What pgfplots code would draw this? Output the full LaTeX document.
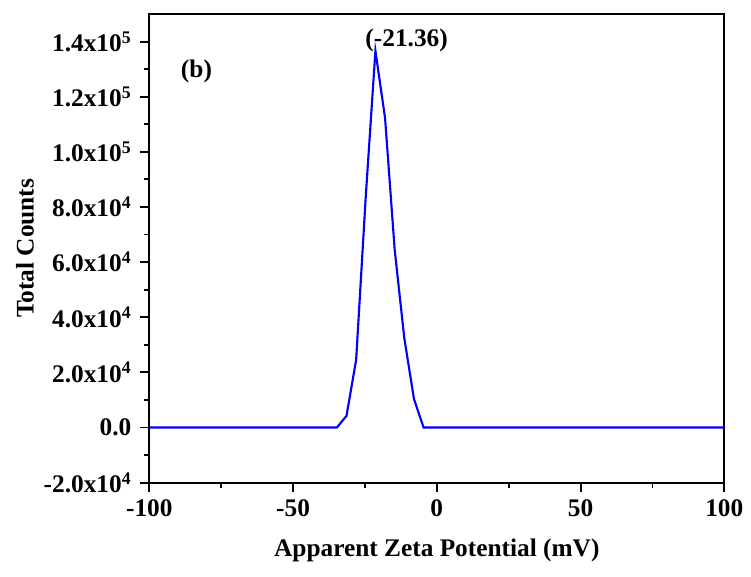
\documentclass[border=0pt]{standalone}
\usepackage{fontspec}
\setmainfont{Liberation Serif}
\usepackage{pgfplots}
\pgfplotsset{compat=1.18}
\usetikzlibrary{calc}

\newcommand{\lbl}{\fontsize{19}{22}\selectfont\bfseries}

\begin{document}
\begin{tikzpicture}
  \begin{axis}[
    name=ax,
    scale only axis,
    width=431.25pt, height=351.5pt,
    xmin=-100, xmax=100,
    ymin=-20000, ymax=150000,
    xtick={-100,-50,0,50,100},
    xticklabels={-100,-50,0,50,100},
    ytick={-20000,0,20000,40000,60000,80000,100000,120000,140000},
    yticklabels={-2.0x10\textsuperscript{4},0.0,2.0x10\textsuperscript{4},4.0x10\textsuperscript{4},
      6.0x10\textsuperscript{4},8.0x10\textsuperscript{4},1.0x10\textsuperscript{5},
      1.2x10\textsuperscript{5},1.4x10\textsuperscript{5}},
    minor x tick num=1,
    minor y tick num=1,
    xtick pos=bottom, ytick pos=left,
    tick align=outside,
    major tick length=7pt,
    minor tick length=3.8pt,
    tick style={black, line width=1.4pt},
    axis line style={line width=1.4pt},
    ticklabel style={font=\lbl},
    yticklabel style={xshift=-3pt},
    xticklabel style={yshift=-2pt},
    scaled ticks=false,
    xlabel={Apparent Zeta Potential (mV)},
    ylabel={Total Counts},
    label style={font=\lbl},
    xlabel style={at={(axis description cs:0.5,-0.1437)}, anchor=center},
    ylabel style={at={(axis description cs:-0.2162,0.5)}, anchor=center, rotate=0},
    clip=false,
  ]
    \addplot[blue, line width=1.6pt] coordinates {
      (-100,0) (-34.76,0) (-31.41,4250) (-28.06,24600) (-24.71,84000)
      (-21.36,136600) (-18.01,112300) (-14.66,64500) (-11.31,32400)
      (-7.96,10400) (-4.61,0) (100,0)
    };
    \node[font=\lbl] at (axis cs:-83.6,129100) {(b)};
    \node[font=\lbl] at (axis cs:-10.5,140400) {(-21.36)};
  \end{axis}
  \pgfresetboundingbox
  \path ($(ax.south west)+(-112pt,-70pt)$) rectangle ($(ax.north east)+(20pt,10.5pt)$);
\end{tikzpicture}
\end{document}
